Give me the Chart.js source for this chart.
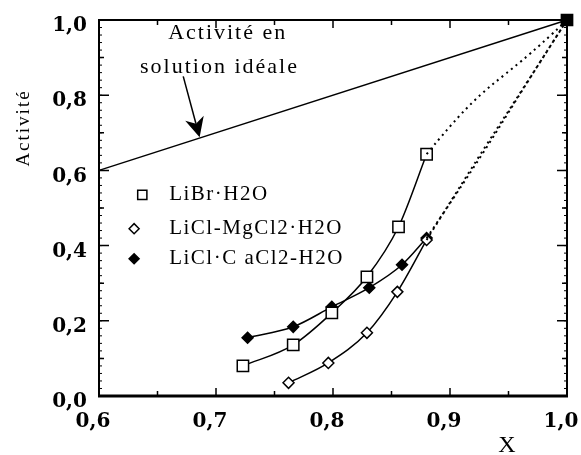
<!DOCTYPE html>
<html>
<head>
<meta charset="utf-8">
<script src="https://cdn.jsdelivr.net/npm/chart.js@4/dist/chart.umd.min.js"></script>
<style>
  html, body { margin: 0; padding: 0; background: #fff; }
  #wrap { width: 581px; height: 455px; }
</style>
</head>
<body>
<div id="wrap"><canvas id="myChart" width="581" height="455"></canvas></div>
<script>
// tick labels
let xTickLabels = ['0,6', '0,7', '0,8', '0,9', '1,0']
let yTickLabels = ['0,0', '0,2', '0,4', '0,6', '0,8', '1,0']

// series (x = fraction, y = activite), last point is (1,1)
let librX = [0.723, 0.766, 0.799, 0.829, 0.856, 0.880, 1.0]
let librY = [0.080, 0.136, 0.221, 0.317, 0.450, 0.643, 1.0]
let mgX = [0.762, 0.796, 0.829, 0.855, 0.880, 1.0]
let mgY = [0.035, 0.088, 0.168, 0.277, 0.415, 1.0]
let caX = [0.727, 0.766, 0.799, 0.831, 0.859, 0.880, 1.0]
let caY = [0.155, 0.184, 0.237, 0.288, 0.349, 0.420, 1.0]
let idealX = [0.6, 1.0]
let idealY = [0.6, 1.0]

let legendLabels = ['LiBr·H2O', 'LiCl-MgCl2·H2O', 'LiCl·C aCl2-H2O']
let noteLines = ['Activité en', 'solution idéale']

const toPts = (xs, ys) => xs.map((x, i) => ({ x: x, y: ys[i] }))

// measured part: solid line with markers
const solidPart = (xs, ys, style, fill) => ({
  data: toPts(xs, ys).slice(0, -1),
  showLine: true,
  clip: false,
  borderColor: '#000',
  borderWidth: 1.5,
  cubicInterpolationMode: 'monotone',
  pointStyle: style,
  pointRadius: style === 'rect' ? 8 : 5.5,
  pointBorderWidth: 1.5,
  pointBorderColor: '#000',
  pointBackgroundColor: fill ? '#000' : '#fff',
})

// extrapolated part up to (1,1): dotted, first segment only steers the curve
const dottedPart = (xs, ys) => ({
  data: toPts(xs, ys).slice(-3),
  showLine: true,
  clip: false,
  borderColor: '#000',
  borderWidth: 2,
  borderDash: [2, 4],
  tension: 0.55,
  pointRadius: 0,
  segment: {
    borderColor: (ctx) => (ctx.p0DataIndex === 0 ? 'rgba(0,0,0,0)' : '#000'),
  },
})

let data = {
  datasets: [
    {
      data: toPts(idealX, idealY),
      showLine: true,
      clip: false,
      borderColor: '#000',
      borderWidth: 1.4,
      pointStyle: 'rect',
      pointRadius: [0, 8],
      pointBackgroundColor: '#000',
      pointBorderColor: '#000',
    },
    dottedPart(librX, librY),
    dottedPart(mgX, mgY),
    dottedPart(caX, caY),
    solidPart(librX, librY, 'rect', false),
    solidPart(mgX, mgY, 'rectRot', false),
    solidPart(caX, caY, 'rectRot', true),
  ],
}

const serif = '"Liberation Serif", "Times New Roman", serif'

// frame, inward ticks, notes, legend and titles
const decor = {
  id: 'decor',
  beforeDatasetsDraw(chart) {
    const ctx = chart.ctx
    const a = chart.chartArea
    const xs = chart.scales.x
    const ys = chart.scales.y
    ctx.save()
    ctx.strokeStyle = '#000'
    ctx.lineWidth = 2
    ctx.strokeRect(a.left, a.top, a.right - a.left, a.bottom - a.top)
    ctx.lineWidth = 3
    ctx.beginPath()
    ctx.moveTo(a.left - 1, a.bottom)
    ctx.lineTo(a.right + 1, a.bottom)
    ctx.stroke()

    ctx.lineWidth = 1.5
    ctx.beginPath()
    for (let k = 0; k <= 8; k++) {
      let px = xs.getPixelForValue(0.6 + k * 0.05)
      let len = k % 2 === 0 ? 8 : 5
      ctx.moveTo(px, a.bottom); ctx.lineTo(px, a.bottom - len)
      ctx.moveTo(px, a.top); ctx.lineTo(px, a.top + len)
    }
    for (let k = 0; k <= 10; k++) {
      let py = ys.getPixelForValue(k * 0.1)
      let len = k % 2 === 0 ? 10 : 5
      ctx.moveTo(a.left, py); ctx.lineTo(a.left + len, py)
      ctx.moveTo(a.right, py); ctx.lineTo(a.right - len, py)
    }
    ctx.stroke()
    ctx.lineWidth = 1
    ctx.beginPath()
    for (let k = 0; k <= 50; k++) {
      let py = ys.getPixelForValue(k * 0.02)
      ctx.moveTo(a.left, py); ctx.lineTo(a.left + 3, py)
      ctx.moveTo(a.right, py); ctx.lineTo(a.right - 3, py)
    }
    ctx.stroke()
    ctx.restore()
  },
  afterDraw(chart) {
    const ctx = chart.ctx
    const xs = chart.scales.x
    const ys = chart.scales.y
    ctx.save()
    ctx.strokeStyle = '#000'

    // note "Activite en solution ideale"
    ctx.fillStyle = '#000'
    ctx.textAlign = 'center'
    ctx.textBaseline = 'alphabetic'
    ctx.font = '22px ' + serif
    ctx.letterSpacing = '2px'
    ctx.fillText(noteLines[0], xs.getPixelForValue(0.71), ys.getPixelForValue(0.95))
    ctx.fillText(noteLines[1], xs.getPixelForValue(0.703), ys.getPixelForValue(0.86))

    // arrow
    let x0 = xs.getPixelForValue(0.672), y0 = ys.getPixelForValue(0.85)
    let x1 = xs.getPixelForValue(0.686), y1 = ys.getPixelForValue(0.688)
    let ang = Math.atan2(y1 - y0, x1 - x0)
    ctx.lineWidth = 1.5
    ctx.beginPath()
    ctx.moveTo(x0, y0)
    ctx.lineTo(x1 - 14 * Math.cos(ang), y1 - 14 * Math.sin(ang))
    ctx.stroke()
    ctx.beginPath()
    ctx.moveTo(x1, y1)
    ctx.lineTo(x1 - 22 * Math.cos(ang - 0.45), y1 - 22 * Math.sin(ang - 0.45))
    ctx.lineTo(x1 - 14 * Math.cos(ang), y1 - 14 * Math.sin(ang))
    ctx.lineTo(x1 - 22 * Math.cos(ang + 0.45), y1 - 22 * Math.sin(ang + 0.45))
    ctx.closePath()
    ctx.fill()

    // legend
    ctx.textAlign = 'left'
    ctx.textBaseline = 'middle'
    ctx.font = '21px ' + serif
    ctx.letterSpacing = '1.5px'
    let rows = [0.535, 0.445, 0.365]
    let styles = ['rect', 'rectRot', 'rectRot']
    let fills = ['#fff', '#fff', '#000']
    legendLabels.forEach((lab, i) => {
      let py = ys.getPixelForValue(rows[i])
      let mx = xs.getPixelForValue(i === 0 ? 0.637 : 0.63)
      ctx.lineWidth = 1.5
      ctx.fillStyle = fills[i]
      Chart.helpers.drawPoint(ctx, { pointStyle: styles[i], radius: i === 0 ? 6.5 : 5, borderWidth: 1.5 }, mx, py)
      ctx.fillStyle = '#000'
      ctx.fillText(lab, xs.getPixelForValue(0.66), py)
    })

    // axis titles
    ctx.letterSpacing = '2px'
    ctx.font = '19px ' + serif
    ctx.textAlign = 'center'
    ctx.save()
    ctx.translate(24, 128)
    ctx.rotate(-Math.PI / 2)
    ctx.fillText('Activité', 0, 0)
    ctx.restore()
    ctx.letterSpacing = '0px'
    ctx.font = '24px ' + serif
    ctx.fillText('X', 507, 446)
    ctx.restore()
  },
}

const config = {
  type: 'scatter',
  data: data,
  options: {
    responsive: false,
    animation: false,
    events: [],
    layout: { padding: { top: 20, right: 14, left: 0, bottom: 0 } },
    plugins: { legend: { display: false }, tooltip: { enabled: false } },
    scales: {
      x: {
        type: 'linear',
        min: 0.6,
        max: 1.0,
        border: { display: false },
        grid: { display: false, drawTicks: false },
        ticks: {
          stepSize: 0.1,
          padding: 14,
          labelOffset: -6,
          color: '#000',
          maxRotation: 0,
          font: { family: '"DejaVu Serif"', size: 20, weight: 'bold' },
          callback: (v, i) => xTickLabels[i],
        },
        afterFit: (s) => {
          s.height = 59
          s.paddingLeft = 0
          s.paddingRight = 0
        },
      },
      y: {
        type: 'linear',
        min: 0,
        max: 1.0,
        border: { display: false },
        grid: { display: false, drawTicks: false },
        ticks: {
          stepSize: 0.2,
          padding: 12,
          labelOffset: 6,
          color: '#000',
          font: { family: '"DejaVu Serif"', size: 20, weight: 'bold' },
          callback: (v, i) => yTickLabels[i],
        },
        afterFit: (s) => {
          s.width = 99
          s.paddingTop = 0
          s.paddingBottom = 0
        },
      },
    },
  },
  plugins: [decor],
}

var myChart = new Chart(document.getElementById('myChart'), config)
</script>
</body>
</html>
